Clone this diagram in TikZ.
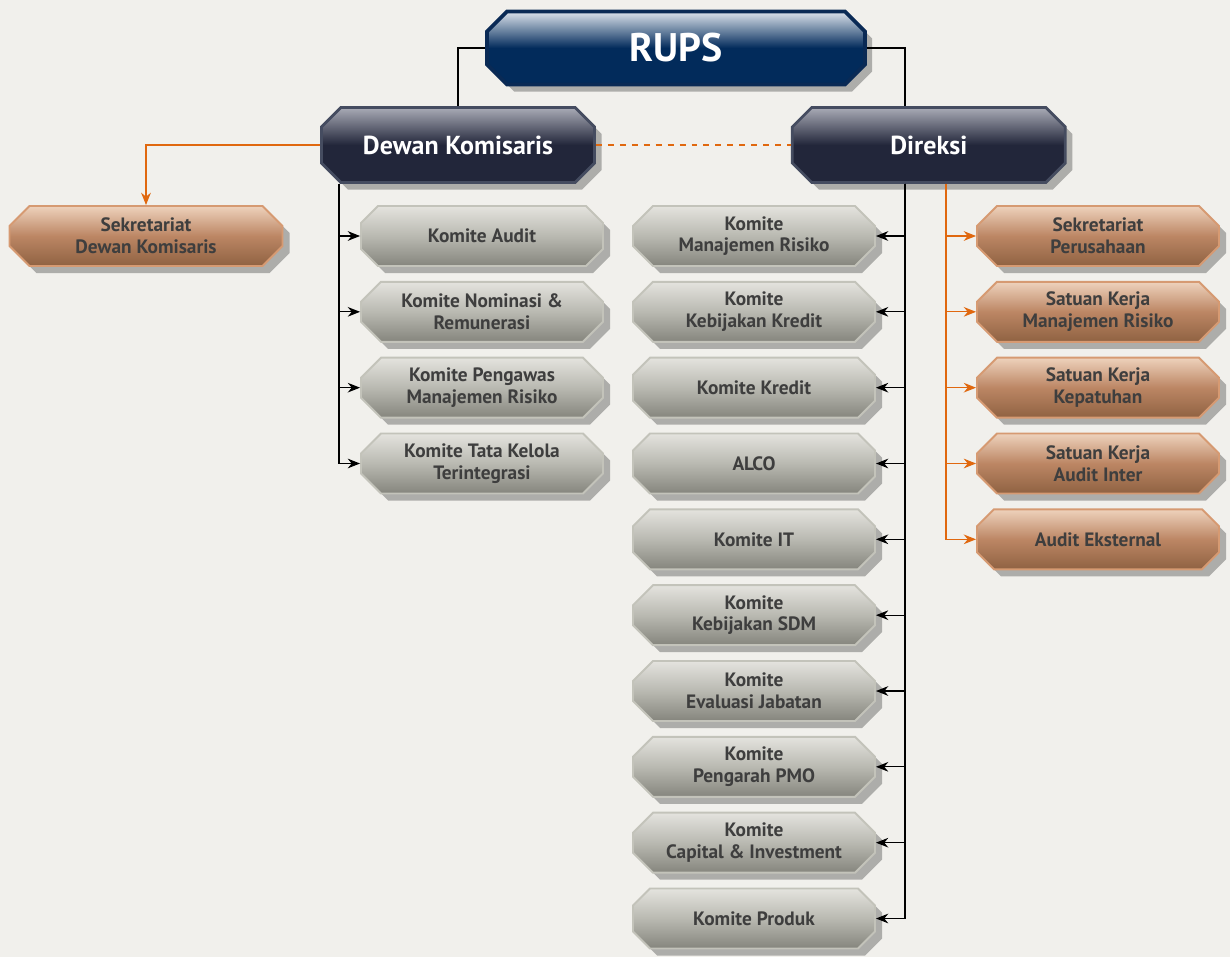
\documentclass[tikz,border=0pt]{standalone}
\usepackage{fontspec}
\setmainfont{PT Sans}
\usetikzlibrary{shapes.misc, arrows.meta, positioning, shadows}

\definecolor{paper}{HTML}{F1F0EC}
\definecolor{boxtext}{HTML}{3E3E3E}
\definecolor{navyedge}{HTML}{0A2A55}
\definecolor{navytop}{HTML}{DCE3EC}
\definecolor{navybot}{HTML}{022B5B}
\definecolor{darkedge}{HTML}{454C60}
\definecolor{darktop}{HTML}{A9ABB6}
\definecolor{darkbot}{HTML}{22263A}
\definecolor{grayedge}{HTML}{C3C3BA}
\definecolor{graytop}{HTML}{E4E3DE}
\definecolor{graymid}{HTML}{B9B9B1}
\definecolor{graybot}{HTML}{85857D}
\definecolor{copperedge}{HTML}{D69A72}
\definecolor{coppertop}{HTML}{EED2BC}
\definecolor{coppermid}{HTML}{BC8664}
\definecolor{copperbot}{HTML}{8F6242}
\definecolor{orangeline}{HTML}{E0680F}

\begin{document}
\begin{tikzpicture}[
    node distance=0.278cm,
    box/.style={chamfered rectangle, chamfered rectangle xsep=0.2cm, chamfered rectangle ysep=0.2cm, inner ysep=0pt, line width=1.1pt, align=center, font=\fontsize{11}{12.3}\selectfont\bfseries, text=boxtext, minimum width=4.84cm, minimum height=1.2cm, drop shadow={shadow xshift=4pt, shadow yshift=-4pt, opacity=0.28, fill=black}},
    komite/.style={box, draw=grayedge, top color=graytop, bottom color=graybot, middle color=graymid},
    unit/.style={box, draw=copperedge, top color=coppertop, bottom color=copperbot, middle color=coppermid},
    organ/.style={box, draw=darkedge, line width=1.6pt, top color=darktop, bottom color=darkbot, middle color=darkbot, text=white, font=\fontsize{14.8}{17}\selectfont\bfseries, minimum width=5.46cm, minimum height=1.5cm},
    rupsbox/.style={organ, draw=navyedge, line width=2.2pt, top color=navytop, bottom color=navybot, middle color=navybot, font=\fontsize{22.7}{26}\selectfont\bfseries, minimum width=7.56cm, minimum height=1.46cm},
    line/.style={line width=0.7pt},
    arrow/.style={line, -{Stealth[length=7pt, width=5.5pt]}},
    oline/.style={line, draw=orangeline},
    oarrow/.style={oline, -{Stealth[length=7pt, width=5.5pt]}}
]
\fill[paper] (0,0) rectangle (24.6,-19.14);
\useasboundingbox (0,0) rectangle (24.6,-19.14);

\coordinate (ltrunk) at (6.78,0);
\coordinate (dtrunk) at (18.10,0);
\coordinate (otrunk) at (18.92,0);

% top
\node[rupsbox] (rups) at (13.52,-0.96) {RUPS};
\node[organ] (dewan) at (9.16,-2.90) {Dewan Komisaris};
\node[organ, right=3.9cm of dewan] (direksi) {Direksi};
\node[unit, minimum width=5.46cm] (sekdk) at (2.92,-4.72) {Sekretariat\\Dewan Komisaris};

% komite dewan komisaris
\node[komite] (audit) at (9.64,-4.72) {Komite Audit};
\node[komite, below=of audit] (nomrem) {Komite Nominasi \&\\Remunerasi};
\node[komite, below=of nomrem] (pengawas) {Komite Pengawas\\Manajemen Risiko};
\node[komite, below=of pengawas] (tatakelola) {Komite Tata Kelola\\Terintegrasi};

% komite direksi
\node[komite] (risiko) at (15.08,-4.72) {Komite\\Manajemen Risiko};
\node[komite, below=of risiko] (kredit) {Komite\\Kebijakan Kredit};
\node[komite, below=of kredit] (kkredit) {Komite Kredit};
\node[komite, below=of kkredit] (alco) {ALCO};
\node[komite, below=of alco] (it) {Komite IT};
\node[komite, below=of it] (sdm) {Komite\\Kebijakan SDM};
\node[komite, below=of sdm] (jabatan) {Komite\\Evaluasi Jabatan};
\node[komite, below=of jabatan] (pmo) {Komite\\Pengarah PMO};
\node[komite, below=of pmo] (capital) {Komite\\Capital \& Investment};
\node[komite, below=of capital] (produk) {Komite Produk};

% satuan kerja
\node[unit] (sekper) at (21.96,-4.72) {Sekretariat\\Perusahaan};
\node[unit, below=of sekper] (skmr) {Satuan Kerja\\Manajemen Risiko};
\node[unit, below=of skmr] (skkep) {Satuan Kerja\\Kepatuhan};
\node[unit, below=of skkep] (skai) {Satuan Kerja\\Audit Inter};
\node[unit, below=of skai] (eksternal) {Audit Eksternal};

% connectors
\draw[line] (rups.west) -| (dewan.north);
\draw[line] (rups.east) -| (direksi.north -| dtrunk);
\draw[oarrow] (dewan.west) -| (sekdk.north);
\draw[oline, dash pattern=on 3.4pt off 3.4pt] (dewan.east) -- (direksi.west);

\draw[arrow] (dewan.south -| ltrunk) |- (audit.west);
\draw[arrow] (dewan.south -| ltrunk) |- (nomrem.west);
\draw[arrow] (dewan.south -| ltrunk) |- (pengawas.west);
\draw[arrow] (dewan.south -| ltrunk) |- (tatakelola.west);

\draw[arrow] (direksi.south -| dtrunk) |- (risiko.east);
\draw[arrow] (direksi.south -| dtrunk) |- (kredit.east);
\draw[arrow] (direksi.south -| dtrunk) |- (kkredit.east);
\draw[arrow] (direksi.south -| dtrunk) |- (alco.east);
\draw[arrow] (direksi.south -| dtrunk) |- (it.east);
\draw[arrow] (direksi.south -| dtrunk) |- (sdm.east);
\draw[arrow] (direksi.south -| dtrunk) |- (jabatan.east);
\draw[arrow] (direksi.south -| dtrunk) |- (pmo.east);
\draw[arrow] (direksi.south -| dtrunk) |- (capital.east);
\draw[arrow] (direksi.south -| dtrunk) |- (produk.east);

\draw[oarrow] (direksi.south -| otrunk) |- (sekper.west);
\draw[oarrow] (direksi.south -| otrunk) |- (skmr.west);
\draw[oarrow] (direksi.south -| otrunk) |- (skkep.west);
\draw[oarrow] (direksi.south -| otrunk) |- (skai.west);
\draw[oarrow] (direksi.south -| otrunk) |- (eksternal.west);

\end{tikzpicture}
\end{document}
